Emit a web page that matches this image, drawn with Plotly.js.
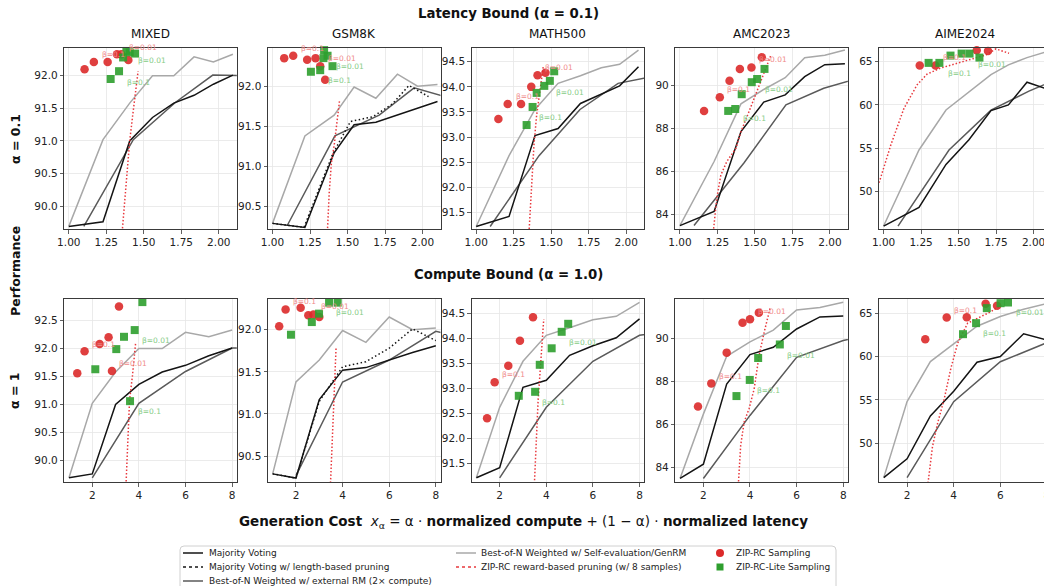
<!DOCTYPE html>
<html><head><meta charset="utf-8">
<script src="https://cdn.plot.ly/plotly-3.0.1.min.js"></script>
<style>html,body{margin:0;padding:0;overflow:hidden;background:#fff}</style>
</head><body><div id="chart" style="width:1052px;height:600px"></div>
<script>
// ---------------- data ----------------
const datasets = ["MIXED", "GSM8K", "MATH500", "AMC2023", "AIME2024"];
const computeX = [1, 2, 3, 4, 5, 6, 7, 8];
const extComputeX = [2, 4, 6, 8, 10];

// MIXED
const mixedLatX = [1.0, 1.228, 1.406, 1.558, 1.70, 1.835, 1.964, 2.094];
const mixedMV = [89.69, 89.76, 91.0, 91.36, 91.58, 91.70, 91.87, 92.01];
const mixedSelf = [89.69, 91.02, 91.58, 92.0, 92.0, 92.29, 92.21, 92.33];
const mixedExt = [89.69, 91.02, 91.59, 92.01, 92.0];
const mixedExtLatX = [1.10, 1.43, 1.71, 1.96, 2.20];
const mixedPruneLatX = [1.352, 1.384, 1.406, 1.429, 1.462];
const mixedPruneLatY = [89.5, 90.37, 91.0, 91.45, 92.07];
const mixedPruneCompX = [3.44, 3.55, 3.60, 3.72, 3.86];
const mixedPruneCompY = [89.5, 90.55, 91.08, 91.5, 92.1];
const mixedZipLatX = [1.105, 1.167, 1.259, 1.321, 1.35, 1.397];
const mixedZipLatY = [92.10, 92.21, 92.21, 92.33, 92.33, 92.24];
const mixedLiteLatX = [1.279, 1.335, 1.362, 1.384, 1.406, 1.442];
const mixedLiteLatY = [91.95, 92.07, 92.28, 92.38, 92.36, 92.34];
const mixedZipCompX = [1.356, 1.67, 2.315, 2.70, 2.845, 3.146];
const mixedZipCompY = [91.56, 91.95, 92.08, 92.20, 91.60, 92.75];
const mixedLiteCompX = [2.13, 3.03, 3.36, 3.82, 3.62, 4.15];
const mixedLiteCompY = [91.63, 91.99, 92.21, 92.33, 91.06, 92.83];

// GSM8K
const gsmLatX = [1.0, 1.216, 1.411, 1.544, 1.689, 1.833, 1.967, 2.10];
const gsmMV = [90.29, 90.24, 91.17, 91.52, 91.55, 91.64, 91.73, 91.81];
const gsmSelf = [90.29, 91.38, 91.64, 91.99, 91.85, 92.15, 92.0, 92.02];
const gsmExt = [90.27, 91.38, 91.64, 91.98, 91.85];
const gsmExtLatX = [1.10, 1.416, 1.711, 1.944, 2.189];
const gsmLen = [90.29, 90.24, 91.15, 91.56, 91.62, 91.78, 92.01, 91.87];
const gsmLenLatX = [1.0, 1.21, 1.40, 1.52, 1.67, 1.80, 1.91, 2.04];
const gsmPruneLatX = [1.364, 1.378, 1.393, 1.411, 1.447];
const gsmPruneLatY = [90.1, 90.67, 91.05, 91.26, 91.82];
const gsmPruneCompX = [3.47, 3.57, 3.65, 3.72];
const gsmPruneCompY = [90.1, 90.82, 91.29, 91.79];
const gsmZipLatX = [1.078, 1.138, 1.231, 1.287, 1.318, 1.351];
const gsmZipLatY = [92.35, 92.38, 92.33, 92.35, 92.25, 92.08];
const gsmLiteLatX = [1.256, 1.318, 1.34, 1.344, 1.367, 1.40];
const gsmLiteLatY = [92.18, 92.20, 92.35, 92.45, 92.38, 92.25];
const gsmZipCompX = [1.28, 1.555, 2.2, 2.53, 2.75, 3.0];
const gsmZipCompY = [92.04, 92.24, 92.26, 92.17, 92.18, 92.15];
const gsmLiteCompX = [1.785, 2.68, 2.99, 3.42, 3.79];
const gsmLiteCompY = [91.94, 92.09, 92.19, 92.32, 92.32];

// MATH500
const mathLatX = [1.0, 1.219, 1.392, 1.546, 1.695, 1.834, 1.956, 2.082];
const mathMV = [91.22, 91.42, 93.03, 93.17, 93.67, 93.86, 94.02, 94.40];
const mathSelf = [91.22, 92.63, 93.55, 94.07, 94.22, 94.38, 94.45, 94.73];
const mathExt = [91.22, 92.63, 93.55, 94.07, 94.22];
const mathExtLatX = [1.093, 1.419, 1.692, 1.946, 2.195];
const mathPruneLatX = [1.352, 1.369, 1.385, 1.403, 1.425, 1.447];
const mathPruneLatY = [91.1, 92.04, 92.84, 93.44, 93.97, 94.40];
const mathPruneCompX = [3.49, 3.58, 3.65, 3.75, 3.89];
const mathPruneCompY = [91.1, 92.1, 92.78, 93.45, 94.39];
const mathZipLatX = [1.148, 1.21, 1.299, 1.367, 1.409, 1.462];
const mathZipLatY = [93.36, 93.66, 93.66, 94.0, 94.23, 94.28];
const mathLiteLatX = [1.336, 1.376, 1.403, 1.454, 1.491, 1.52];
const mathLiteLatY = [93.24, 93.60, 93.88, 94.02, 94.12, 94.31];
const mathZipCompX = [1.46, 1.785, 2.37, 2.87, 3.43];
const mathZipCompY = [92.41, 93.13, 93.46, 93.96, 94.43];
const mathLiteCompX = [2.82, 3.52, 3.72, 4.23, 4.66, 4.94];
const mathLiteCompY = [92.86, 92.94, 93.48, 93.81, 94.14, 94.30];

// AMC2023
const amcLatX = [1.0, 1.228, 1.407, 1.559, 1.702, 1.832, 1.966, 2.10];
const amcMV = [83.47, 84.13, 87.86, 89.23, 89.57, 90.42, 90.98, 91.02];
const amcSelf = [83.47, 86.46, 89.15, 89.82, 90.37, 91.30, 91.42, 91.66];
const amcExt = [83.47, 86.40, 89.10, 89.88, 90.37];
const amcExtLatX = [1.094, 1.428, 1.707, 1.959, 2.202];
const amcPruneLatX = [1.220, 1.230, 1.246, 1.273, 1.313, 1.374, 1.407, 1.452, 1.508, 1.564, 1.609];
const amcPruneLatY = [83.0, 83.8, 84.75, 85.83, 86.46, 87.08, 87.85, 88.63, 89.64, 90.65, 91.46];
const amcPruneCompX = [3.49, 3.6, 3.75, 3.96, 4.18, 4.39, 4.61, 4.86];
const amcPruneCompY = [83.0, 85.0, 86.1, 86.71, 87.64, 89.19, 90.28, 91.38];
const amcZipLatX = [1.161, 1.266, 1.331, 1.40, 1.477, 1.546];
const amcZipLatY = [88.82, 89.46, 90.23, 90.78, 90.85, 91.32];
const amcLiteLatX = [1.322, 1.369, 1.412, 1.479, 1.515, 1.564];
const amcLiteLatY = [88.82, 88.91, 89.6, 90.16, 90.31, 90.78];
const amcZipCompX = [1.77, 2.34, 3.0, 3.68, 4.0, 4.38];
const amcZipCompY = [86.81, 87.89, 89.32, 90.71, 90.87, 91.18];
const amcLiteCompX = [3.42, 3.99, 4.35, 5.28, 5.54];
const amcLiteCompY = [87.3, 88.05, 89.07, 89.70, 90.56];

// AIME2024
const aimeLatX = [1.0, 1.236, 1.416, 1.569, 1.716, 1.832, 1.956, 2.08];
const aimeMV = [46.04, 48.2, 53.15, 56.0, 59.35, 60.0, 62.62, 61.9];
const aimeSelf = [46.04, 54.81, 59.42, 61.5, 63.5, 64.62, 65.46, 66.1];
const aimeExt = [46.04, 54.8, 59.4, 61.6, 63.4];
const aimeExtLatX = [1.096, 1.436, 1.716, 1.969, 2.216];
const aimePruneLatX = [0.95, 0.972, 1.048, 1.136, 1.223, 1.289, 1.376, 1.486, 1.595, 1.683, 1.748, 1.836];
const aimePruneLatY = [50.3, 51.15, 55.38, 59.62, 62.31, 63.54, 64.23, 64.81, 65.31, 65.77, 66.46, 65.96];
const aimePruneCompX = [2.88, 3.09, 3.31, 3.60, 3.88, 4.17, 4.6, 5.18, 5.61, 6.04];
const aimePruneCompY = [45.0, 49.62, 52.31, 55.19, 58.65, 61.54, 63.85, 64.62, 65.19, 65.96];
const aimeZipLatX = [1.241, 1.346, 1.621, 1.696];
const aimeZipLatY = [64.54, 64.54, 66.31, 66.23];
const aimeLiteLatX = [1.30, 1.372, 1.446, 1.52, 1.573, 1.639];
const aimeLiteLatY = [64.85, 64.85, 65.69, 65.92, 65.92, 65.46];
const aimeZipCompX = [2.78, 3.70, 4.56, 5.37, 5.86];
const aimeZipCompY = [62.0, 64.5, 64.54, 66.08, 65.85];
const aimeLiteCompX = [4.40, 4.96, 5.42, 6.01, 6.33];
const aimeLiteCompY = [62.58, 63.85, 65.58, 66.15, 66.23];

// beta labels: [x, y, text, series]
const mixedLatLabels = [[1.205, 92.33, "β=0.1", "r"], [1.39, 92.43, "β=0.01", "r"], [1.446, 92.23, "β=0.01", "g"], [1.373, 91.9, "β=0.1", "g"]];
const gsmLatLabels = [[1.178, 92.47, "β=0.1", "r"], [1.356, 92.34, "β=0.01", "r"], [1.411, 92.25, "β=0.01", "g"], [1.356, 92.07, "β=0.1", "g"]];
const mathLatLabels = [[1.252, 93.80, "β=0.1", "r"], [1.447, 94.38, "β=0.01", "r"], [1.518, 93.89, "β=0.01", "g"], [1.403, 93.40, "β=0.1", "g"]];
const amcLatLabels = [[1.302, 89.80, "β=0.1", "r"], [1.515, 91.20, "β=0.01", "r"], [1.553, 89.84, "β=0.01", "g"], [1.407, 88.45, "β=0.1", "g"]];
const aimeLatLabels = [[1.381, 65.46, "β=0.1", "r"], [1.661, 67.23, "β=0.01", "r"], [1.613, 64.69, "β=0.01", "g"], [1.416, 63.65, "β=0.1", "g"]];
const mixedCompLabels = [[1.885, 92.08, "β=0.1", "r"], [3.06, 91.73, "β=0.01", "r"], [4.03, 92.15, "β=0.01", "g"], [3.86, 90.87, "β=0.1", "g"]];
const gsmCompLabels = [[1.785, 92.33, "β=0.1", "r"], [2.99, 92.28, "β=0.01", "r"], [3.65, 92.2, "β=0.01", "g"]];
const mathCompLabels = [[2.0, 93.28, "β=0.1", "r"], [4.89, 93.93, "β=0.01", "g"], [3.75, 92.73, "β=0.1", "g"]];
const amcCompLabels = [[2.57, 88.23, "β=0.1", "r"], [4.25, 91.22, "β=0.01", "r"], [5.51, 89.21, "β=0.01", "g"], [4.2, 87.58, "β=0.1", "g"]];
const aimeCompLabels = [[3.93, 65.31, "β=0.1", "r"], [6.12, 66.73, "β=0.01", "r"], [6.59, 65.08, "β=0.01", "g"], [5.18, 62.69, "β=0.1", "g"]];

// axis settings
const latYRanges = [[89.65, 92.43], [90.22, 92.48], [91.17, 94.78], [83.31, 91.77], [45.7, 66.6]];
const compYRanges = [[89.61, 92.88], [90.19, 92.36], [91.13, 94.79], [83.29, 91.8], [45.5, 66.6]];
const yDticks = [0.5, 0.5, 0.5, 2, 5];
const yFormats = [".1f", ".1f", ".1f", "d", "d"];

// ---------------- figure ----------------
const W = 1052, H = 600;
const FONT = "DejaVu Sans, Liberation Sans, sans-serif";
const colLeft = [64.3, 268.0, 471.7, 675.4, 879.1];
const panelW = 172.5;
const rowTop = [47.7, 299.3], rowBot = [229.0, 482.3];
const px = v => v / W, py = v => 1 - v / H;

const C = {mv: "#141414", ext: "#5a5a5a", self: "#a8a8a8", prune: "#e8383d", zip: "#dc2a2a", lite: "#2e9e2e", rl: "#f08a8a", gl: "#86cc86"};
const traces = [];
const annotations = [];
const shapes = [];
const layout = {width: W, height: H, margin: {l: 0, r: 0, t: 0, b: 0}, showlegend: false,
  paper_bgcolor: "#fff", plot_bgcolor: "#fff", font: {family: FONT, color: "#222"}};

function addPanel(n, row, col, s) {
  const sfx = n === 1 ? "" : String(n);
  const xa = "x" + sfx, ya = "y" + sfx;
  const ln = (x, y, color, dash) => ({type: "scatter", mode: "lines", x: x, y: y, xaxis: xa, yaxis: ya,
    line: {color: color, width: 1.5, dash: dash}, hoverinfo: "skip"});
  traces.push(ln(s.selfX, s.selfY, C.self, "solid"));
  traces.push(ln(s.extX, s.extY, C.ext, "solid"));
  traces.push(ln(s.mvX, s.mvY, C.mv, "solid"));
  if (s.lenX) traces.push(ln(s.lenX, s.lenY, C.mv, "1.5px,2.5px"));
  traces.push(ln(s.pruneX, s.pruneY, C.prune, "1.5px,2px"));
  traces.push({type: "scatter", mode: "markers", x: s.zipX, y: s.zipY, xaxis: xa, yaxis: ya, cliponaxis: false,
    marker: {symbol: "circle", size: 8.5, color: C.zip, opacity: 0.9, line: {width: 0}}});
  traces.push({type: "scatter", mode: "markers", x: s.liteX, y: s.liteY, xaxis: xa, yaxis: ya, cliponaxis: false,
    marker: {symbol: "square", size: 8, color: C.lite, opacity: 0.9, line: {width: 0}}});
  s.labels.forEach(l => annotations.push({x: l[0], y: l[1], xref: xa, yref: ya, text: l[2], showarrow: false,
    xanchor: "left", yanchor: "middle", font: {family: FONT, size: 7.5, color: l[3] === "r" ? C.rl : C.gl}}));

  const base = {showline: true, mirror: true, linecolor: "#3a3a3a", linewidth: 1, ticks: "outside", ticklen: 3.5,
    tickwidth: 0.8, tickcolor: "#3a3a3a", showgrid: true, gridcolor: "#e6e6e6", gridwidth: 0.8, zeroline: false,
    tickfont: {family: FONT, size: 10.5, color: "#222"}, anchor: ya};
  layout["xaxis" + sfx] = Object.assign({}, base, {anchor: ya,
    domain: [px(colLeft[col]), px(colLeft[col] + panelW)],
    range: row === 0 ? [0.97, 2.12] : [0.8, 8.2],
    tickmode: "array",
    tickvals: row === 0 ? [1.0, 1.25, 1.5, 1.75, 2.0] : [2, 4, 6, 8],
    ticktext: row === 0 ? ["1.00", "1.25", "1.50", "1.75", "2.00"] : ["2", "4", "6", "8"]});
  layout["yaxis" + sfx] = Object.assign({}, base, {anchor: xa,
    domain: [py(rowBot[row]), py(rowTop[row])],
    range: row === 0 ? latYRanges[col] : compYRanges[col],
    dtick: yDticks[col], tick0: 0, tickformat: yFormats[col]});
}

const latSpecs = [
  {mvX: mixedLatX, mvY: mixedMV, selfX: mixedLatX, selfY: mixedSelf, extX: mixedExtLatX, extY: mixedExt,
   pruneX: mixedPruneLatX, pruneY: mixedPruneLatY, zipX: mixedZipLatX, zipY: mixedZipLatY, liteX: mixedLiteLatX, liteY: mixedLiteLatY, labels: mixedLatLabels},
  {mvX: gsmLatX, mvY: gsmMV, selfX: gsmLatX, selfY: gsmSelf, extX: gsmExtLatX, extY: gsmExt, lenX: gsmLenLatX, lenY: gsmLen,
   pruneX: gsmPruneLatX, pruneY: gsmPruneLatY, zipX: gsmZipLatX, zipY: gsmZipLatY, liteX: gsmLiteLatX, liteY: gsmLiteLatY, labels: gsmLatLabels},
  {mvX: mathLatX, mvY: mathMV, selfX: mathLatX, selfY: mathSelf, extX: mathExtLatX, extY: mathExt,
   pruneX: mathPruneLatX, pruneY: mathPruneLatY, zipX: mathZipLatX, zipY: mathZipLatY, liteX: mathLiteLatX, liteY: mathLiteLatY, labels: mathLatLabels},
  {mvX: amcLatX, mvY: amcMV, selfX: amcLatX, selfY: amcSelf, extX: amcExtLatX, extY: amcExt,
   pruneX: amcPruneLatX, pruneY: amcPruneLatY, zipX: amcZipLatX, zipY: amcZipLatY, liteX: amcLiteLatX, liteY: amcLiteLatY, labels: amcLatLabels},
  {mvX: aimeLatX, mvY: aimeMV, selfX: aimeLatX, selfY: aimeSelf, extX: aimeExtLatX, extY: aimeExt,
   pruneX: aimePruneLatX, pruneY: aimePruneLatY, zipX: aimeZipLatX, zipY: aimeZipLatY, liteX: aimeLiteLatX, liteY: aimeLiteLatY, labels: aimeLatLabels}
];
const compSpecs = [
  {mvX: computeX, mvY: mixedMV, selfX: computeX, selfY: mixedSelf, extX: extComputeX, extY: mixedExt,
   pruneX: mixedPruneCompX, pruneY: mixedPruneCompY, zipX: mixedZipCompX, zipY: mixedZipCompY, liteX: mixedLiteCompX, liteY: mixedLiteCompY, labels: mixedCompLabels},
  {mvX: computeX, mvY: gsmMV, selfX: computeX, selfY: gsmSelf, extX: extComputeX, extY: gsmExt, lenX: computeX, lenY: gsmLen,
   pruneX: gsmPruneCompX, pruneY: gsmPruneCompY, zipX: gsmZipCompX, zipY: gsmZipCompY, liteX: gsmLiteCompX, liteY: gsmLiteCompY, labels: gsmCompLabels},
  {mvX: computeX, mvY: mathMV, selfX: computeX, selfY: mathSelf, extX: extComputeX, extY: mathExt,
   pruneX: mathPruneCompX, pruneY: mathPruneCompY, zipX: mathZipCompX, zipY: mathZipCompY, liteX: mathLiteCompX, liteY: mathLiteCompY, labels: mathCompLabels},
  {mvX: computeX, mvY: amcMV, selfX: computeX, selfY: amcSelf, extX: extComputeX, extY: amcExt,
   pruneX: amcPruneCompX, pruneY: amcPruneCompY, zipX: amcZipCompX, zipY: amcZipCompY, liteX: amcLiteCompX, liteY: amcLiteCompY, labels: amcCompLabels},
  {mvX: computeX, mvY: aimeMV, selfX: computeX, selfY: aimeSelf, extX: extComputeX, extY: aimeExt,
   pruneX: aimePruneCompX, pruneY: aimePruneCompY, zipX: aimeZipCompX, zipY: aimeZipCompY, liteX: aimeLiteCompX, liteY: aimeLiteCompY, labels: aimeCompLabels}
];
latSpecs.forEach((s, i) => addPanel(i + 1, 0, i, s));
compSpecs.forEach((s, i) => addPanel(i + 6, 1, i, s));

// titles
const txt = (x, y, text, size, opts) => annotations.push(Object.assign({xref: "paper", yref: "paper", x: px(x), y: py(y),
  text: text, showarrow: false, xanchor: "center", yanchor: "middle", font: {family: FONT, size: size, color: "#111"}}, opts || {}));
txt(508, 14, "<b>Latency Bound (α = 0.1)</b>", 13.3);
txt(508, 274, "<b>Compute Bound (α = 1.0)</b>", 13.3);
datasets.forEach((d, i) => txt(colLeft[i] + panelW / 2, 34, d, 12));
txt(15, 139, "<b>α = 0.1</b>", 12.5, {textangle: -90});
txt(15, 391, "<b>α = 1</b>", 12.5, {textangle: -90});
txt(15, 271, "<b>Performance</b>", 12.5, {textangle: -90});
txt(523, 522, "<b>Generation Cost</b>  <i>x</i><sub>α</sub> = α · <b>normalized compute</b> + (1 − α) · <b>normalized latency</b>", 13.5);

// legend (drawn manually in figure pixel space)
const bx0 = 180, bx1 = 836, by0 = 546, by1 = 610, r = 4;
shapes.push({type: "path", xref: "paper", yref: "paper",
  path: `M ${px(bx0 + r)} ${py(by0)} L ${px(bx1 - r)} ${py(by0)} Q ${px(bx1)} ${py(by0)} ${px(bx1)} ${py(by0 + r)} L ${px(bx1)} ${py(by1)} L ${px(bx0)} ${py(by1)} L ${px(bx0)} ${py(by0 + r)} Q ${px(bx0)} ${py(by0)} ${px(bx0 + r)} ${py(by0)} Z`,
  line: {color: "#d0d0d0", width: 1}, fillcolor: "rgba(255,255,255,0.9)", layer: "above"});
const legLine = (x0, y, color, dash) => shapes.push({type: "line", xref: "paper", yref: "paper", x0: px(x0), x1: px(x0 + 20), y0: py(y), y1: py(y),
  line: {color: color, width: 1.5, dash: dash}, layer: "above"});
const legText = (x, y, t) => annotations.push({xref: "paper", yref: "paper", x: px(x), y: py(y), text: t, showarrow: false,
  xanchor: "left", yanchor: "middle", font: {family: FONT, size: 9, color: "#222"}});
legLine(183, 553, C.mv, "solid"); legText(207, 553, "Majority Voting");
legLine(183, 567, C.mv, "dot"); legText(207, 567, "Majority Voting w/ length-based pruning");
legLine(183, 581, C.ext, "solid"); legText(207, 581, "Best-of-N Weighted w/ external RM (2× compute)");
legLine(456, 553, C.self, "solid"); legText(479, 553, "Best-of-N Weighted w/ Self-evaluation/GenRM");
legLine(456, 567, C.prune, "dot"); legText(479, 567, "ZIP-RC reward-based pruning (w/ 8 samples)");
shapes.push({type: "circle", xref: "paper", yref: "paper", x0: px(716), x1: px(724), y0: py(557), y1: py(549),
  fillcolor: C.zip, line: {width: 0}, layer: "above"});
legText(734, 553, "ZIP-RC Sampling");
shapes.push({type: "rect", xref: "paper", yref: "paper", x0: px(716.5), x1: px(723.5), y0: py(570.5), y1: py(563.5),
  fillcolor: C.lite, line: {width: 0}, layer: "above"});
legText(734, 567, "ZIP-RC-Lite Sampling");

layout.annotations = annotations;
layout.shapes = shapes;
Plotly.newPlot("chart", traces, layout, {displayModeBar: false, staticPlot: true});
</script></body></html>
